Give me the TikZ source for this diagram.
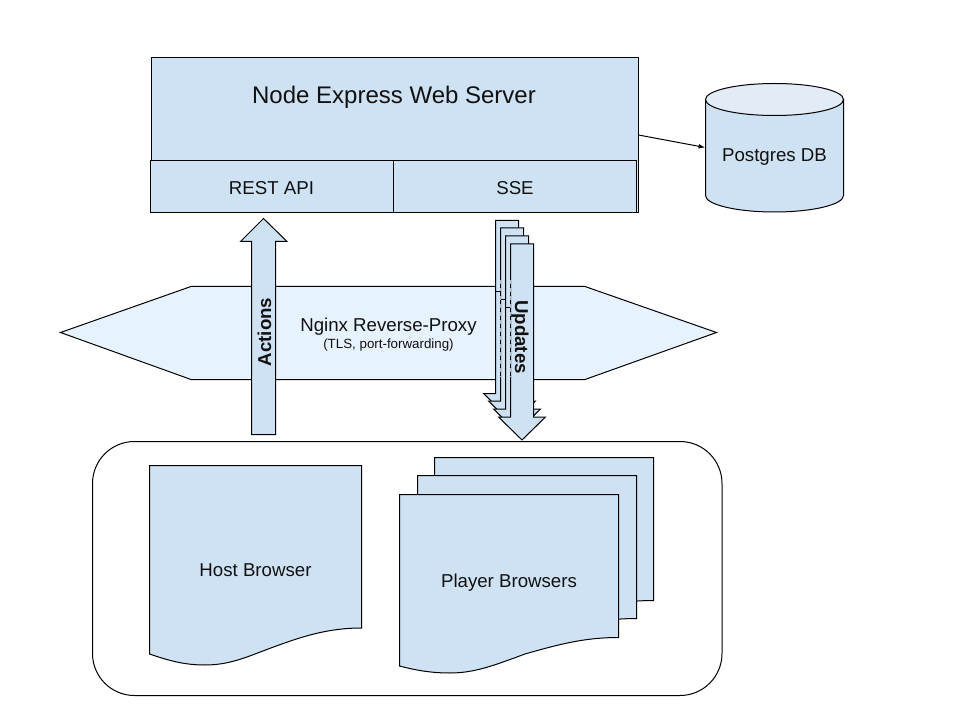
\documentclass[tikz,border=0pt]{standalone}
\usepackage{fontspec}
\setmainfont{Liberation Sans}
\usetikzlibrary{arrows.meta}
\definecolor{mainblue}{HTML}{CFE2F3}
\definecolor{paleblue}{HTML}{E6F2FE}
\definecolor{lidblue}{HTML}{E2ECF7}
\definecolor{inkc}{HTML}{111111}
\def\px{0.75pt}
\tikzset{
  shapeline/.style={draw=black,line width=0.75pt,line join=miter},
  bluebox/.style={shapeline,fill=mainblue,rectangle,inner sep=0pt},
  blockarrow/.style={shapeline,fill=mainblue},
  txt/.style={text=inkc,inner sep=0pt,font=\fontsize{14}{16}\selectfont},
  smalltxt/.style={text=inkc,inner sep=0pt,font=\fontsize{10}{12}\selectfont},
  titletxt/.style={text=inkc,inner sep=0pt,font=\fontsize{18}{21}\selectfont},
  boldtxt/.style={text=inkc,inner sep=0pt,font=\fontsize{14}{16}\selectfont\bfseries},
  ghostmark/.style={draw=black,line width=1.1pt},
  ghostdash/.style={draw=black!30,line width=0.6pt,dash pattern=on 3pt off 3pt},
}
\begin{document}
\begin{tikzpicture}[x=0.75pt,y=-0.75pt]
\useasboundingbox[fill=white] (0,0) rectangle (960,720);

% Client panel
\draw[shapeline,fill=white,rounded corners=31.5pt] (92.5,441.5) rectangle (722,695.5);

% Proxy
\draw[shapeline,fill=paleblue] (60.5,332.5) -- (191,286.5) -- (585,286.5) -- (716.5,332.5) -- (585,379.5) -- (191,379.5) -- cycle;
\node[txt] (nginx) at (388.5,327) {Nginx Reverse-Proxy};
\node[smalltxt] (nginxsub) at (388.5,345) {(TLS, port-forwarding)};

% Server
\node[bluebox,minimum width=487*\px,minimum height=155*\px] (server) at (394.5,135) {};
\node[titletxt] (servertitle) at (394,97) {Node Express Web Server};
\node[bluebox,minimum width=242.5*\px,minimum height=52*\px] (rest) at (272,186.5) {};
\node[bluebox,minimum width=243*\px,minimum height=52*\px] (sse) at (515,186.5) {};
\node[txt] at (271.5,188.5) {REST API};
\node[txt] at (515,188.5) {SSE};

% Database
\draw[shapeline,fill=mainblue] (705.5,99.5) -- (705.5,195.5) arc[start angle=180,end angle=0,x radius=69,y radius=16.5] -- (843.5,99.5) -- cycle;
\draw[shapeline,fill=lidblue] (774.5,99.5) ellipse[x radius=69,y radius=16];
\node[minimum width=138*\px,minimum height=20*\px,inner sep=0pt] (db) at (774.5,147.5) {};
\node[txt] (dblabel) at (774.5,157.5) {Postgres DB};
\draw[line width=0.75pt,-{Latex[length=5pt,width=3.6pt]}] (server.east) -- (db.west);

% Actions arrow
\draw[blockarrow] (251.5,434.5) -- (251.5,241.5) -- (240.5,241.5) -- (263.5,218.5) -- (287,241.5) -- (275.5,241.5) -- (275.5,434.5) -- cycle;
\node[boldtxt,rotate=90] (actions) at (264.5,332) {Actions};

% Updates arrows, stacked
\foreach \dx/\dy in {0/0,5/7.5,10/15.5,15/23.5}{
  \begin{scope}[shift={(\dx,\dy)}]
    \draw[blockarrow] (495.5,220.5) -- (518.5,220.5) -- (518.5,393.5) -- (530.5,393.5) -- (507,416.5) -- (483.5,393.5) -- (495.5,393.5) -- cycle;
  \end{scope}
}
\draw[ghostdash] (500.5,280) -- (500.5,377);
\draw[ghostdash] (510.5,280) -- (510.5,377);
\draw[ghostmark] (496,291.5) -- (500.5,291.5);
\draw[ghostmark] (501,299.5) -- (505.5,299.5);
\draw[ghostmark] (506,307.5) -- (510,307.5);
\node[boldtxt,rotate=-90] (updates) at (520,337) {Updates};

% Host document
\draw[shapeline,fill=mainblue] (149.5,465.5) -- (361.5,465.5) -- (361.5,628)
  .. controls (322,628) and (292,640) .. (255,654)
  .. controls (232,663) and (218,665) .. (205,665)
  .. controls (185,665) and (170,661) .. (149.5,654) -- cycle;
\node[txt] (host) at (255.5,570.5) {Host Browser};

% Player documents
\foreach \dx/\dy in {35/-37,18/-19,0/0}{
  \begin{scope}[shift={(\dx,\dy)}]
    \draw[shapeline,fill=mainblue] (399.5,494.5) -- (618.5,494.5) -- (618.5,637.5)
      .. controls (585,637.5) and (560,644) .. (525,654)
      .. controls (495,665) and (475,673) .. (450,673)
      .. controls (430,673) and (415,670) .. (399.5,666) -- cycle;
  \end{scope}
}
\node[txt] (players) at (509,582.5) {Player Browsers};
\end{tikzpicture}
\end{document}
